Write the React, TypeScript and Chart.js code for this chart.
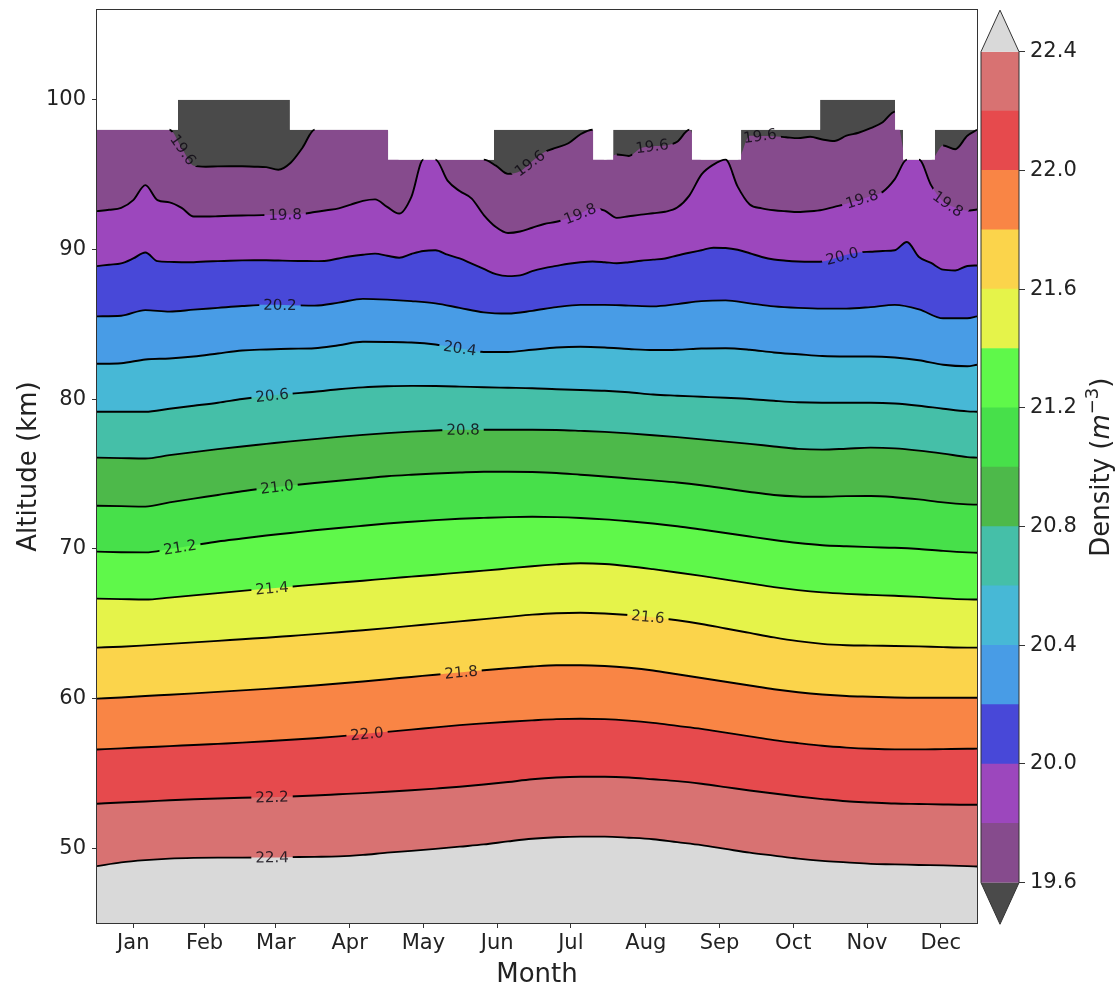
import React, { useEffect, useRef } from 'react';
import { Chart, registerables } from 'chart.js';

Chart.register(...registerables);

const FONT = "'DejaVu Sans', 'Noto Sans', sans-serif";
const TEXT = '#222222';

// ---------- axes / ticks ----------
const MONTHS = ['Jan', 'Feb', 'Mar', 'Apr', 'May', 'Jun', 'Jul', 'Aug', 'Sep', 'Oct', 'Nov', 'Dec'];
const MONTH_TICK_DAYS = [16, 45.5, 75, 105.5, 136, 166.5, 197, 228, 258.5, 289, 319.5, 350];
const ALT_TICKS = [50, 60, 70, 80, 90, 100];
const CB_TICKS = [19.6, 20.0, 20.4, 20.8, 21.2, 21.6, 22.0, 22.4];

// ---------- contour levels and colours ----------
const LEVELS = [19.6, 19.8, 20.0, 20.2, 20.4, 20.6, 20.8, 21.0, 21.2, 21.4, 21.6, 21.8, 22.0, 22.2, 22.4];
// index 0: below 19.6 (extend min), 1..14: bands, 15: above 22.4 (extend max)
const BAND_COLORS = [
  '#4a4a4a', '#864b8d', '#9c47bd', '#4848d8', '#489ce6', '#47b8d6', '#45bfa8', '#4db94a',
  '#47e04a', '#5ff84a', '#e5f34a', '#fbd44b', '#f98545', '#e64a4d', '#d87272', '#d9d9d9',
];

// ---------- upper edge of the data (km), stepwise ----------
const TOP_EDGE_DAYS = [1, 34.5, 80.8, 121.4, 165.2, 206.2, 214.5, 247.1, 267.4, 300.1, 331.1, 334.4, 347.6, 365];
const TOP_EDGE_ALT = [98, 100, 98, 96, 98, 96, 98, 96, 98, 100, 98, 96, 98, 98];

// ---------- sampling days ----------
const TOP_DAYS = [
  1, 6, 11, 16, 21, 26, 31, 36, 41, 46, 51, 56, 61, 66, 71, 76, 81, 86, 91, 96, 101, 106, 111, 116, 121,
  126, 131, 136, 141, 146, 151, 156, 161, 166, 171, 176, 181, 186, 191, 196, 201, 206, 211, 216, 221, 226,
  231, 236, 241, 246, 251, 256, 261, 266, 271, 276, 281, 286, 291, 296, 301, 306, 311, 316, 321, 326, 331,
  336, 341, 346, 351, 356, 361, 365,
];
const DAYS = [
  1, 11, 21, 31, 41, 51, 61, 71, 81, 91, 101, 111, 121, 131, 141, 151, 161, 171, 181, 191, 201, 211, 221,
  231, 241, 251, 261, 271, 281, 291, 301, 311, 321, 331, 341, 351, 361, 365,
];

// ---------- contour altitudes (km) ----------
const L19_6 = [
  98, 98, 98, 98, 98, 98, 98, 96.8, 95.6, 95.53, 95.55, 95.56, 95.56, 95.53, 95.5, 95.33, 95.78, 96.8, 98, 98,
  98, 98, 98, 98, 98, 96, 96, 96, 96, 96, 96, 96, 96, 95.6, 95.05, 95.22, 95.9, 96.5, 96.8, 97.1, 97.7, 98,
  96, 96.35, 96.25, 96.78, 96.9, 96.95, 97.2, 98, 96, 96, 96, 96, 97.6, 97.58, 97.56, 97.5, 97.44, 97.53,
  97.35, 97.25, 97.6, 97.8, 98.1, 98.5, 99.2, 96, 96, 96, 96.95, 96.7, 97.6, 98,
];
const L19_8 = [
  92.56, 92.65, 92.78, 93.3, 94.3, 93.3, 93.15, 92.78, 92.2, 92.2, 92.22, 92.25, 92.27, 92.28, 92.3, 92.32,
  92.33, 92.38, 92.5, 92.62, 92.75, 93.0, 93.25, 93.35, 92.85, 92.4, 93.5, 96, 96, 94.6, 93.9, 93.4, 92.3,
  91.5, 91.1, 91.2, 91.45, 91.7, 91.85, 92.1, 92.4, 92.75, 92.6, 92.11, 92.22, 92.33, 92.42, 92.52, 92.8,
  93.6, 95.0, 95.67, 96, 94.2, 93.0, 92.75, 92.62, 92.55, 92.5, 92.55, 92.65, 92.85, 93.05, 93.3, 93.55,
  93.85, 94.7, 96, 96, 94.3, 93.2, 92.8, 92.6, 92.67,
];
const L20_0 = [
  88.89, 88.98, 89.07, 89.4, 89.8, 89.22, 89.17, 89.15, 89.15, 89.2, 89.22, 89.25, 89.27, 89.28, 89.28,
  89.26, 89.24, 89.23, 89.22, 89.25, 89.4, 89.55, 89.65, 89.72, 89.58, 89.45, 89.7, 89.9, 89.95, 89.65,
  89.4, 89.05, 88.7, 88.35, 88.22, 88.27, 88.55, 88.75, 88.9, 89.05, 89.15, 89.2, 89.15, 89.08, 89.15,
  89.25, 89.32, 89.4, 89.6, 89.78, 89.95, 90.12, 90.1, 89.98, 89.75, 89.5, 89.33, 89.25, 89.2, 89.18, 89.2,
  89.4, 89.65, 89.8, 89.85, 89.9, 89.95, 90.5, 89.5, 89.1, 88.65, 88.6, 88.9, 88.93,
];
const L20_2 = [
  85.53, 85.57, 85.95, 85.85, 85.98, 86.1, 86.22, 86.3, 86.28, 86.25, 86.45, 86.7, 86.65, 86.55, 86.4, 86.1,
  85.8, 85.72, 85.9, 86.15, 86.3, 86.3, 86.25, 86.2, 86.35, 86.55, 86.6, 86.4, 86.2, 86.1, 86.05, 86.05,
  86.15, 86.3, 86.0, 85.4, 85.4, 85.53,
];
const L20_4 = [
  82.36, 82.4, 82.65, 82.72, 82.85, 83.05, 83.25, 83.32, 83.37, 83.4, 83.6, 83.83, 83.82, 83.78, 83.65, 83.4,
  83.15, 83.15, 83.3, 83.45, 83.5, 83.45, 83.35, 83.28, 83.3, 83.38, 83.4, 83.3, 83.12, 83.0, 82.88, 82.85,
  82.85, 82.78, 82.6, 82.3, 82.2, 82.3,
];
const L20_6 = [
  79.16, 79.16, 79.16, 79.36, 79.56, 79.76, 80.01, 80.21, 80.36, 80.49, 80.66, 80.79, 80.86, 80.89, 80.88,
  80.84, 80.79, 80.76, 80.73, 80.66, 80.61, 80.56, 80.46, 80.31, 80.23, 80.16, 80.09, 80.01, 79.89, 79.79,
  79.76, 79.76, 79.76, 79.71, 79.56, 79.36, 79.18, 79.16,
];
const L20_8 = [
  76.09, 76.06, 76.03, 76.26, 76.46, 76.66, 76.84, 77.01, 77.18, 77.33, 77.48, 77.61, 77.73, 77.83, 77.91,
  77.96, 77.96, 77.96, 77.96, 77.94, 77.88, 77.81, 77.71, 77.59, 77.46, 77.31, 77.16, 77.01, 76.84, 76.68,
  76.63, 76.69, 76.76, 76.71, 76.56, 76.36, 76.13, 76.09,
];
const L21_0 = [
  72.88, 72.85, 72.82, 73.1, 73.35, 73.6, 73.85, 74.05, 74.23, 74.4, 74.55, 74.7, 74.85, 74.95, 75.03, 75.1,
  75.15, 75.15, 75.13, 75.07, 74.95, 74.83, 74.7, 74.57, 74.43, 74.25, 74.03, 73.8, 73.6, 73.5, 73.48, 73.52,
  73.53, 73.45, 73.3, 73.1, 72.97, 72.95,
];
const L21_2 = [
  69.81, 69.77, 69.76, 69.99, 70.24, 70.49, 70.69, 70.89, 71.06, 71.24, 71.39, 71.54, 71.69, 71.81, 71.92,
  72.01, 72.07, 72.12, 72.14, 72.12, 72.06, 71.97, 71.84, 71.69, 71.51, 71.29, 71.06, 70.82, 70.59, 70.39,
  70.24, 70.17, 70.11, 70.07, 69.99, 69.86, 69.76, 69.74,
];
const L21_4 = [
  66.67, 66.64, 66.61, 66.74, 66.89, 67.04, 67.19, 67.34, 67.47, 67.61, 67.74, 67.87, 68.01, 68.14, 68.27,
  68.41, 68.54, 68.69, 68.84, 68.96, 69.04, 68.99, 68.84, 68.64, 68.42, 68.19, 67.94, 67.69, 67.44, 67.24,
  67.09, 66.99, 66.92, 66.86, 66.79, 66.69, 66.62, 66.61,
];
const L21_6 = [
  63.4, 63.46, 63.55, 63.65, 63.75, 63.85, 63.96, 64.06, 64.18, 64.3, 64.43, 64.56, 64.7, 64.85, 65.0, 65.15,
  65.3, 65.45, 65.6, 65.7, 65.73, 65.68, 65.58, 65.43, 65.23, 64.98, 64.68, 64.38, 64.08, 63.83, 63.65,
  63.56, 63.53, 63.51, 63.48, 63.43, 63.4, 63.4,
];
const L21_8 = [
  59.99, 60.07, 60.17, 60.25, 60.34, 60.44, 60.54, 60.64, 60.75, 60.87, 61.0, 61.14, 61.29, 61.44, 61.59,
  61.74, 61.89, 62.02, 62.14, 62.22, 62.22, 62.17, 62.05, 61.87, 61.62, 61.37, 61.12, 60.87, 60.62, 60.42,
  60.27, 60.17, 60.12, 60.07, 60.05, 60.05, 60.05, 60.05,
];
const L22_0 = [
  56.59, 56.67, 56.74, 56.82, 56.89, 56.97, 57.05, 57.14, 57.24, 57.34, 57.47, 57.62, 57.77, 57.92, 58.07,
  58.22, 58.34, 58.45, 58.54, 58.62, 58.65, 58.62, 58.52, 58.37, 58.17, 57.97, 57.72, 57.47, 57.22, 57.02,
  56.84, 56.72, 56.64, 56.6, 56.6, 56.62, 56.64, 56.65,
];
const L22_2 = [
  52.97, 53.05, 53.12, 53.2, 53.27, 53.32, 53.37, 53.4, 53.45, 53.52, 53.6, 53.68, 53.77, 53.87, 53.98, 54.1,
  54.25, 54.42, 54.6, 54.72, 54.77, 54.77, 54.72, 54.6, 54.48, 54.3, 54.08, 53.85, 53.65, 53.45, 53.28,
  53.13, 53.05, 52.98, 52.95, 52.92, 52.9, 52.9,
];
const L22_4 = [
  48.8, 49.05, 49.2, 49.3, 49.35, 49.37, 49.37, 49.38, 49.4, 49.42, 49.45, 49.55, 49.7, 49.82, 49.95, 50.1,
  50.25, 50.45, 50.63, 50.73, 50.77, 50.77, 50.7, 50.6, 50.4, 50.2, 49.95, 49.7, 49.5, 49.3, 49.15, 49.05,
  48.95, 48.92, 48.88, 48.85, 48.8, 48.77,
];

const LEVEL_SERIES = [
  { x: TOP_DAYS, y: L19_6 }, { x: TOP_DAYS, y: L19_8 }, { x: TOP_DAYS, y: L20_0 },
  { x: DAYS, y: L20_2 }, { x: DAYS, y: L20_4 }, { x: DAYS, y: L20_6 }, { x: DAYS, y: L20_8 },
  { x: DAYS, y: L21_0 }, { x: DAYS, y: L21_2 }, { x: DAYS, y: L21_4 }, { x: DAYS, y: L21_6 },
  { x: DAYS, y: L21_8 }, { x: DAYS, y: L22_0 }, { x: DAYS, y: L22_2 }, { x: DAYS, y: L22_4 },
];

// ---------- inline contour labels (level, day of year) ----------
const LABEL_LEVELS = [19.6, 19.6, 19.6, 19.6, 19.8, 19.8, 19.8, 19.8, 20.0, 20.2, 20.4, 20.6, 20.8, 21.0, 21.2, 21.4, 21.6, 21.8, 22.0, 22.2, 22.4];
const LABEL_DAYS = [36.6, 180, 230.6, 275.2, 78.8, 200.8, 317.4, 353, 309.2, 76.7, 151.1, 73.4, 152.4, 75.5, 35.3, 73.4, 228.9, 151.6, 112.7, 73.4, 73.4];

// ---------- helpers ----------
const pts = (xs: number[], ys: number[]) => xs.map((x, i) => ({ x, y: ys[i] }));

function topAt(x: number): number {
  let v = TOP_EDGE_ALT[0];
  for (let i = 0; i < TOP_EDGE_DAYS.length; i++) if (TOP_EDGE_DAYS[i] <= x) v = TOP_EDGE_ALT[i];
  return v;
}

function interp(xs: number[], ys: number[], x: number): number {
  if (x <= xs[0]) return ys[0];
  for (let i = 1; i < xs.length; i++) {
    if (x <= xs[i]) {
      const t = (x - xs[i - 1]) / (xs[i] - xs[i - 1]);
      return ys[i - 1] + t * (ys[i] - ys[i - 1]);
    }
  }
  return ys[ys.length - 1];
}

const LABEL_PX = 15;

function computeLabels(chart: any) {
  const xs = chart.scales.x;
  const ys = chart.scales.y;
  const ctx = chart.ctx;
  ctx.save();
  ctx.font = `${LABEL_PX}px ${FONT}`;
  const out = LABEL_LEVELS.map((lv, k) => {
    const li = LEVELS.indexOf(lv);
    const s = LEVEL_SERIES[li];
    const d = LABEL_DAYS[k];
    const px = xs.getPixelForValue(d);
    const py = ys.getPixelForValue(interp(s.x, s.y, d));
    const ax = xs.getPixelForValue(d - 5);
    const ay = ys.getPixelForValue(interp(s.x, s.y, d - 5));
    const bx = xs.getPixelForValue(d + 5);
    const by = ys.getPixelForValue(interp(s.x, s.y, d + 5));
    const ang = Math.atan2(by - ay, bx - ax);
    const text = lv.toFixed(1);
    const w = ctx.measureText(text).width;
    return { px, py, ang, text, w };
  });
  ctx.restore();
  return out;
}

const contourLabelPlugin = {
  id: 'contourLabels',
  beforeDatasetsDraw(chart: any) {
    chart.$clabels = computeLabels(chart);
  },
  beforeDatasetDraw(chart: any, args: any) {
    const ds = chart.data.datasets[args.index];
    if (!ds.isContour) return;
    const ctx = chart.ctx;
    ctx.save();
    ctx.beginPath();
    ctx.rect(0, 0, chart.width, chart.height);
    for (const L of chart.$clabels || []) {
      const hw = L.w / 2 + 4;
      const hh = 10;
      const c = Math.cos(L.ang);
      const s = Math.sin(L.ang);
      const corners = [[-hw, -hh], [hw, -hh], [hw, hh], [-hw, hh]].map(([u, v]) => [L.px + u * c - v * s, L.py + u * s + v * c]);
      ctx.moveTo(corners[0][0], corners[0][1]);
      for (let i = 1; i < 4; i++) ctx.lineTo(corners[i][0], corners[i][1]);
      ctx.closePath();
    }
    ctx.clip('evenodd');
  },
  afterDatasetDraw(chart: any, args: any) {
    const ds = chart.data.datasets[args.index];
    if (!ds.isContour) return;
    chart.ctx.restore();
  },
  afterDatasetsDraw(chart: any) {
    const ctx = chart.ctx;
    ctx.save();
    ctx.font = `${LABEL_PX}px ${FONT}`;
    ctx.fillStyle = 'rgba(15,10,20,0.85)';
    ctx.textAlign = 'center';
    ctx.textBaseline = 'middle';
    for (const L of chart.$clabels || []) {
      ctx.save();
      ctx.translate(L.px, L.py);
      ctx.rotate(L.ang);
      ctx.fillText(L.text, 0, 1);
      ctx.restore();
    }
    ctx.restore();
  },
};

const framePlugin = {
  id: 'frame',
  afterDraw(chart: any) {
    const { left, top, right, bottom } = chart.chartArea;
    const ctx = chart.ctx;
    ctx.save();
    ctx.strokeStyle = '#333333';
    ctx.lineWidth = 1;
    ctx.strokeRect(Math.round(left) - 0.5, Math.round(top) - 0.5, Math.round(right - left) + 1, Math.round(bottom - top) + 1);
    ctx.restore();
  },
};

function mainConfig(): any {
  const datasets: any[] = [];
  // contour lines (drawn last)
  LEVEL_SERIES.forEach((s) => {
    datasets.push({
      isContour: true,
      data: pts(s.x, s.y),
      borderColor: '#000000',
      borderWidth: 1.9,
      pointRadius: 0,
      fill: false,
      cubicInterpolationMode: 'monotone',
      order: 0,
      segment: {
        borderColor: (c: any) => {
          const a = c.p0.parsed;
          const b = c.p1.parsed;
          const t = Math.min(topAt(a.x), topAt(b.x)) - 0.01;
          return a.y >= t && b.y >= t ? 'rgba(0,0,0,0)' : undefined;
        },
      },
    });
  });
  // white mask above the data edge
  datasets.push({
    data: pts(TOP_EDGE_DAYS, TOP_EDGE_ALT),
    stepped: 'before',
    fill: 'end',
    backgroundColor: '#ffffff',
    borderWidth: 0,
    borderColor: 'rgba(0,0,0,0)',
    pointRadius: 0,
    order: 1,
  });
  // filled bands (each fills from its contour downwards; higher contours painted first)
  LEVEL_SERIES.forEach((s, i) => {
    datasets.push({
      data: pts(s.x, s.y),
      fill: 'start',
      backgroundColor: BAND_COLORS[i + 1],
      borderWidth: 0,
      borderColor: 'rgba(0,0,0,0)',
      pointRadius: 0,
      cubicInterpolationMode: 'monotone',
      order: 16 - i,
    });
  });
  // region below 19.6 (dark grey) up to the data edge
  datasets.push({
    data: pts(TOP_EDGE_DAYS, TOP_EDGE_ALT),
    stepped: 'before',
    fill: 'start',
    backgroundColor: BAND_COLORS[0],
    borderWidth: 0,
    borderColor: 'rgba(0,0,0,0)',
    pointRadius: 0,
    order: 17,
  });

  return {
    type: 'line',
    data: { datasets },
    plugins: [contourLabelPlugin, framePlugin],
    options: {
      responsive: false,
      animation: false,
      events: [],
      layout: { padding: { left: 0, top: 10, right: 2, bottom: 0 } },
      plugins: { legend: { display: false }, tooltip: { enabled: false } },
      scales: {
        x: {
          type: 'linear',
          min: 1,
          max: 365,
          afterBuildTicks: (sc: any) => {
            sc.ticks = MONTH_TICK_DAYS.map((v) => ({ value: v }));
          },
          afterFit: (sc: any) => {
            sc.height = 65;
            sc.paddingLeft = 0;
            sc.paddingRight = 0;
          },
          ticks: {
            autoSkip: false,
            maxRotation: 0,
            callback: (_v: any, i: number) => MONTHS[i],
            font: { family: FONT, size: 21 },
            color: TEXT,
            padding: 3,
          },
          grid: { drawOnChartArea: false, drawTicks: true, tickLength: 5, color: '#333333' },
          border: { display: false },
          title: {
            display: true,
            text: 'Month',
            font: { family: FONT, size: 26, lineHeight: 1 },
            color: TEXT,
            padding: { top: 0, bottom: 0 },
          },
        },
        y: {
          type: 'linear',
          min: 45,
          max: 106,
          afterBuildTicks: (sc: any) => {
            sc.ticks = ALT_TICKS.map((v) => ({ value: v }));
          },
          afterFit: (sc: any) => {
            sc.width = 97;
            sc.paddingTop = 0;
            sc.paddingBottom = 0;
          },
          ticks: {
            callback: (v: any) => String(v),
            font: { family: FONT, size: 21 },
            color: TEXT,
            padding: 6,
          },
          grid: { drawOnChartArea: false, drawTicks: true, tickLength: 5, color: '#333333' },
          border: { display: false },
          title: {
            display: true,
            text: 'Altitude (km)',
            font: { family: FONT, size: 26, lineHeight: 1.2 },
            color: TEXT,
            padding: { top: 14, bottom: 0 },
          },
        },
      },
    },
  };
}

const colorbarPlugin = {
  id: 'colorbarExtras',
  afterDatasetsDraw(chart: any) {
    const { left, right, top, bottom } = chart.chartArea;
    const ext = 0.05 * (bottom - top);
    const mid = (left + right) / 2;
    const ctx = chart.ctx;
    ctx.save();
    ctx.fillStyle = BAND_COLORS[15];
    ctx.beginPath();
    ctx.moveTo(left, top);
    ctx.lineTo(mid, top - ext);
    ctx.lineTo(right, top);
    ctx.closePath();
    ctx.fill();
    ctx.fillStyle = BAND_COLORS[0];
    ctx.beginPath();
    ctx.moveTo(left, bottom);
    ctx.lineTo(mid, bottom + ext);
    ctx.lineTo(right, bottom);
    ctx.closePath();
    ctx.fill();
    ctx.strokeStyle = '#333333';
    ctx.lineWidth = 1;
    ctx.beginPath();
    ctx.moveTo(left, top);
    ctx.lineTo(mid, top - ext);
    ctx.lineTo(right, top);
    ctx.lineTo(right, bottom);
    ctx.lineTo(mid, bottom + ext);
    ctx.lineTo(left, bottom);
    ctx.closePath();
    ctx.stroke();
    ctx.restore();
  },
  afterDraw(chart: any) {
    const { top, bottom } = chart.chartArea;
    const ctx = chart.ctx;
    const fs = 26;
    const parts = [
      { t: 'Density (', f: `${fs}px ${FONT}`, dy: 0 },
      { t: 'm', f: `italic ${fs}px ${FONT}`, dy: 0 },
      { t: '\u22123', f: `${Math.round(fs * 0.7)}px ${FONT}`, dy: -fs * 0.42 },
      { t: ')', f: `${fs}px ${FONT}`, dy: 0 },
    ];
    ctx.save();
    let total = 0;
    const widths = parts.map((p) => {
      ctx.font = p.f;
      const w = ctx.measureText(p.t).width;
      total += w;
      return w;
    });
    ctx.translate(121, (top + bottom) / 2);
    ctx.rotate(-Math.PI / 2);
    ctx.fillStyle = TEXT;
    ctx.textBaseline = 'alphabetic';
    let x = -total / 2;
    parts.forEach((p, i) => {
      ctx.font = p.f;
      ctx.fillText(p.t, x, fs * 0.36 + p.dy);
      x += widths[i];
    });
    ctx.restore();
  },
};

function colorbarConfig(): any {
  const datasets = LEVELS.slice(0, -1).map((lv, i) => ({
    data: [[lv, LEVELS[i + 1]]],
    backgroundColor: BAND_COLORS[i + 1],
    borderWidth: 0,
    barPercentage: 1,
    categoryPercentage: 1,
    grouped: false,
  }));
  return {
    type: 'bar',
    data: { labels: [''], datasets },
    plugins: [colorbarPlugin],
    options: {
      responsive: false,
      animation: false,
      events: [],
      layout: { padding: { left: 2, top: 51.7, right: 0, bottom: 105.3 } },
      plugins: { legend: { display: false }, tooltip: { enabled: false } },
      scales: {
        x: { display: false },
        y: {
          position: 'right',
          min: 19.6,
          max: 22.4,
          afterBuildTicks: (sc: any) => {
            sc.ticks = CB_TICKS.map((v) => ({ value: v }));
          },
          afterFit: (sc: any) => {
            sc.width = 98;
            sc.paddingTop = 0;
            sc.paddingBottom = 0;
          },
          ticks: {
            callback: (v: any) => Number(v).toFixed(1),
            font: { family: FONT, size: 21 },
            color: TEXT,
            padding: 5,
          },
          grid: { drawOnChartArea: false, drawTicks: true, tickLength: 6, color: '#333333' },
          border: { display: false },
        },
      },
    },
  };
}

export default function App() {
  const mainRef = useRef<HTMLCanvasElement>(null);
  const cbRef = useRef<HTMLCanvasElement>(null);
  useEffect(() => {
    Chart.defaults.font.family = FONT;
    const main = new Chart(mainRef.current as HTMLCanvasElement, mainConfig());
    const cb = new Chart(cbRef.current as HTMLCanvasElement, colorbarConfig());
    return () => {
      main.destroy();
      cb.destroy();
    };
  }, []);
  return (
    <div style={{ position: 'fixed', left: 0, top: 0, width: 1117, height: 988, background: '#ffffff' }}>
      <canvas ref={mainRef} width={979} height={988} style={{ position: 'absolute', left: 0, top: 0 }} />
      <canvas ref={cbRef} width={138} height={988} style={{ position: 'absolute', left: 979, top: 0 }} />
    </div>
  );
}
